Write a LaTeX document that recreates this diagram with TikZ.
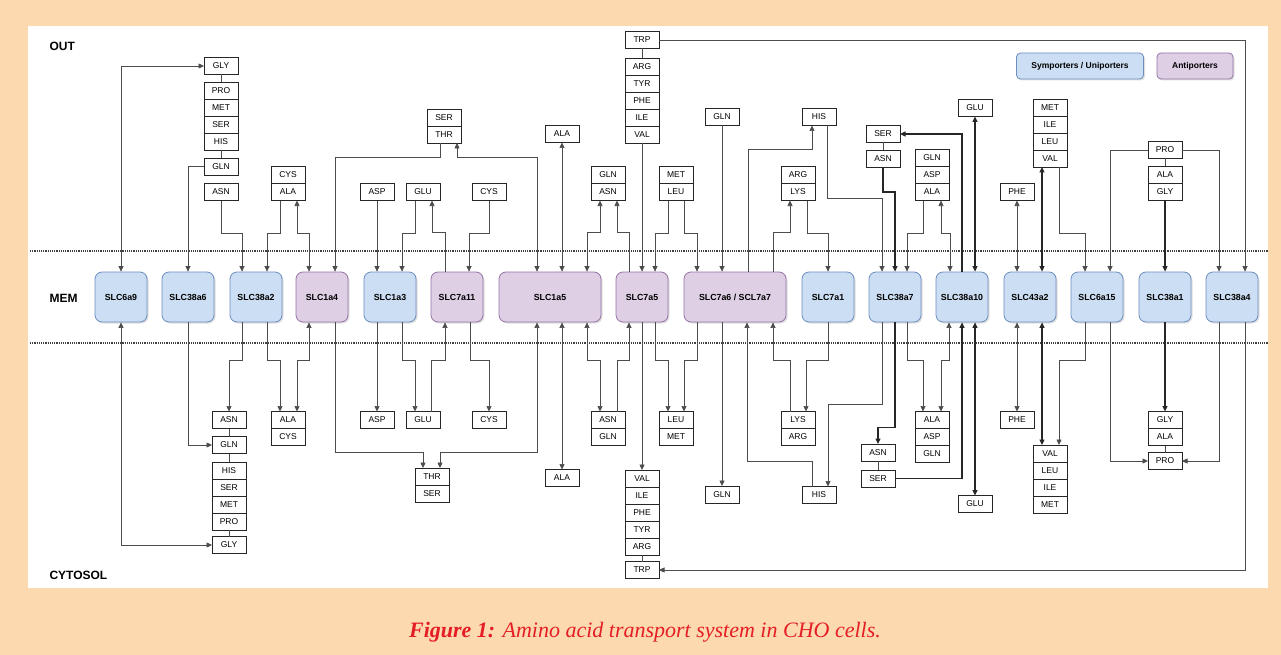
\documentclass[tikz,border=0pt]{standalone}
\usepackage{fontspec}
\setmainfont{Liberation Serif}
\setsansfont{Liberation Sans}
\usepackage{tikz}
\usetikzlibrary{arrows.meta, positioning, calc, shadows}
\usepackage{xcolor}
\definecolor{peach}{RGB}{253,217,176}
\definecolor{symblue}{RGB}{204,222,243}
\definecolor{symedge}{RGB}{108,142,191}
\definecolor{antipurple}{RGB}{222,207,229}
\definecolor{antiedge}{RGB}{150,115,166}
\definecolor{capred}{RGB}{227,30,36}

\begin{document}
\begin{tikzpicture}[
  x=1pt, y=-1pt,
  sym/.style={rectangle, rounded corners=7pt, draw=symedge, fill=symblue, line width=0.8pt, minimum width=52pt, minimum height=50pt, font=\sffamily\bfseries\fontsize{8.8}{10}\selectfont, drop shadow={shadow xshift=1.5pt, shadow yshift=-1.5pt, opacity=0.25}},
  anti/.style={sym, draw=antiedge, fill=antipurple},
  wide/.style={minimum width=102pt},
  aa/.style={rectangle, draw=black!85, line width=0.7pt, fill=white, minimum width=34pt, minimum height=17pt, inner sep=0pt, outer sep=0pt, font=\sffamily\fontsize{8.5}{9}\selectfont},
  zone/.style={anchor=west, font=\sffamily\bfseries\fontsize{12}{14}\selectfont},
  legendbox/.style={rectangle, rounded corners=4pt, minimum height=26pt, line width=0.8pt, font=\sffamily\bfseries\fontsize{8.5}{10}\selectfont, drop shadow={shadow xshift=1.5pt, shadow yshift=-1.5pt, opacity=0.25}},
  membrane/.style={densely dotted, line width=1.2pt, black!75},
  link/.style={draw=black!70, line width=0.65pt},
  heavy/.style={draw=black!85, line width=1.1pt},
  arr/.style={link, -{Triangle[length=5.5pt,width=5pt]}},
  arrs/.style={link, {Triangle[length=5.5pt,width=5pt]}-{Triangle[length=5.5pt,width=5pt]}},
]
\useasboundingbox (0,0) rectangle (1281,655);
\fill[peach] (0,0) rectangle (1281,655);
\fill[white] (28,26) rectangle (1268,588);

% membrane
\draw[membrane] (30,251) -- (1268,251);
\draw[membrane] (30,343) -- (1268,343);
\node[zone] (out) at (46,46) {OUT};
\node[zone] (mem) at (46,298) {MEM};
\node[zone] (cyto) at (46,575) {CYTOSOL};

% legend
\node[legendbox, draw=symedge, fill=symblue, minimum width=127pt] (lsym) at (1080,66) {Symporters / Uniporters};
\node[legendbox, draw=antiedge, fill=antipurple, minimum width=76pt] (lanti) at (1195,66) {Antiporters};

% transporters
\node[sym] (s6a9) at (121,297) {SLC6a9};
\node[sym] (s38a6) at (188,297) {SLC38a6};
\node[sym] (s38a2) at (256,297) {SLC38a2};
\node[anti] (s1a4) at (322,297) {SLC1a4};
\node[sym] (s1a3) at (390,297) {SLC1a3};
\node[anti] (s7a11) at (457,297) {SLC7a11};
\node[anti, wide] (s1a5) at (550,297) {SLC1a5};
\node[anti] (s7a5) at (642,297) {SLC7a5};
\node[anti, wide] (s7a6) at (735,297) {SLC7a6 / SCL7a7};
\node[sym] (s7a1) at (828,297) {SLC7a1};
\node[sym] (s38a7) at (895,297) {SLC38a7};
\node[sym] (s38a10) at (962,297) {SLC38a10};
\node[sym] (s43a2) at (1030,297) {SLC43a2};
\node[sym] (s6a15) at (1097,297) {SLC6a15};
\node[sym] (s38a1) at (1165,297) {SLC38a1};
\node[sym] (s38a4) at (1232,297) {SLC38a4};

% amino acids, outside
\node[aa] (gly1) at (221,66) {GLY};
\node[aa] (pro1) at (221,90.5) {PRO};
\node[aa, below=0pt of pro1] (met1) {MET};
\node[aa, below=0pt of met1] (ser1) {SER};
\node[aa, below=0pt of ser1] (his1) {HIS};
\node[aa] (gln1) at (221,166.5) {GLN};
\node[aa] (asn1) at (221,192) {ASN};
\node[aa] (cys1) at (288,175) {CYS};
\node[aa, below=0pt of cys1] (ala1) {ALA};
\node[aa] (ser2) at (444,117.5) {SER};
\node[aa, below=0pt of ser2] (thr1) {THR};
\node[aa] (asp1) at (377,192) {ASP};
\node[aa] (glu1) at (423,192) {GLU};
\node[aa] (cys2) at (489,192) {CYS};
\node[aa] (ala2) at (562,134) {ALA};
\node[aa] (gln2) at (608,175) {GLN};
\node[aa, below=0pt of gln2] (asn2) {ASN};
\node[aa] (trp1) at (642,40) {TRP};
\node[aa] (arg1) at (642,66.5) {ARG};
\node[aa, below=0pt of arg1] (tyr1) {TYR};
\node[aa, below=0pt of tyr1] (phe1) {PHE};
\node[aa, below=0pt of phe1] (ile1) {ILE};
\node[aa, below=0pt of ile1] (val1) {VAL};
\node[aa] (met2) at (676,175) {MET};
\node[aa, below=0pt of met2] (leu2) {LEU};
\node[aa] (gln3) at (722,117) {GLN};
\node[aa] (his2) at (819,117) {HIS};
\node[aa] (arg2) at (798,175) {ARG};
\node[aa, below=0pt of arg2] (lys1) {LYS};
\node[aa] (ser3) at (883,134) {SER};
\node[aa] (asn3) at (883,159) {ASN};
\node[aa] (gln4) at (932,158) {GLN};
\node[aa, below=0pt of gln4] (asp2) {ASP};
\node[aa, below=0pt of asp2] (ala3) {ALA};
\node[aa] (glu2) at (975,108) {GLU};
\node[aa] (phe2) at (1017,192) {PHE};
\node[aa] (met3) at (1050,107.5) {MET};
\node[aa, below=0pt of met3] (ile2) {ILE};
\node[aa, below=0pt of ile2] (leu3) {LEU};
\node[aa, below=0pt of leu3] (val2) {VAL};
\node[aa] (pro2) at (1165,150) {PRO};
\node[aa] (ala4) at (1165,175) {ALA};
\node[aa, below=0pt of ala4] (gly2) {GLY};

% amino acids, cytosol
\node[aa] (asn4) at (229,420) {ASN};
\node[aa] (gln5) at (229,445) {GLN};
\node[aa] (his3) at (229,470.5) {HIS};
\node[aa, below=0pt of his3] (ser4) {SER};
\node[aa, below=0pt of ser4] (met4) {MET};
\node[aa, below=0pt of met4] (pro3) {PRO};
\node[aa] (gly3) at (229,545) {GLY};
\node[aa] (ala5) at (288,420) {ALA};
\node[aa, below=0pt of ala5] (cys3) {CYS};
\node[aa] (asp3) at (377,420) {ASP};
\node[aa] (glu3) at (423,420) {GLU};
\node[aa] (cys4) at (489,420) {CYS};
\node[aa] (thr2) at (432,476.5) {THR};
\node[aa, below=0pt of thr2] (ser5) {SER};
\node[aa] (ala6) at (562,478) {ALA};
\node[aa] (asn5) at (608,420) {ASN};
\node[aa, below=0pt of asn5] (gln6) {GLN};
\node[aa] (val3) at (642,478.5) {VAL};
\node[aa, below=0pt of val3] (ile3) {ILE};
\node[aa, below=0pt of ile3] (phe3) {PHE};
\node[aa, below=0pt of phe3] (tyr3) {TYR};
\node[aa, below=0pt of tyr3] (arg3) {ARG};
\node[aa] (trp2) at (642,570) {TRP};
\node[aa] (leu4) at (676,420) {LEU};
\node[aa, below=0pt of leu4] (met5) {MET};
\node[aa] (gln7) at (722,494.5) {GLN};
\node[aa] (his4) at (819,495) {HIS};
\node[aa] (lys2) at (798,420) {LYS};
\node[aa, below=0pt of lys2] (arg4) {ARG};
\node[aa] (asn6) at (878,452.5) {ASN};
\node[aa] (ser6) at (878,478.5) {SER};
\node[aa] (ala7) at (932,420) {ALA};
\node[aa, below=0pt of ala7] (asp4) {ASP};
\node[aa, below=0pt of asp4] (gln8) {GLN};
\node[aa] (glu4) at (975,504) {GLU};
\node[aa] (phe4) at (1017,420) {PHE};
\node[aa] (val4) at (1050,453.5) {VAL};
\node[aa, below=0pt of val4] (leu5) {LEU};
\node[aa, below=0pt of leu5] (ile4) {ILE};
\node[aa, below=0pt of ile4] (met6) {MET};
\node[aa] (gly4) at (1165,420) {GLY};
\node[aa, below=0pt of gly4] (ala8) {ALA};
\node[aa] (pro4) at (1165,461) {PRO};

% ties between split stacks
\draw[link] (gly1) -- (pro1);
\draw[link] (his1) -- (gln1);
\draw[link] (trp1) -- (arg1);
\draw[link] (ser3) -- (asn3);
\draw[link] (pro2) -- (ala4);
\draw[link] (asn4) -- (gln5);
\draw[link] (gln5) -- (his3);
\draw[link] (pro3) -- (gly3);
\draw[link] (arg3) -- (trp2);
\draw[link] (asn6) -- (ser6);
\draw[link] (ala8) -- (pro4);

% outside <-> membrane
\draw[arrs] (gly1.west) -| (s6a9.north);
\draw[arr] (gln1.west) -| (s38a6.north);
\draw[arr] (asn1.south) -- ++(0,32.5) -| ([xshift=-14pt]s38a2.north);
\draw[arr] ([xshift=-8pt]ala1.south) -- ++(0,32.5) -| ([xshift=11pt]s38a2.north);
\draw[arrs] ([xshift=9pt]ala1.south) -- ++(0,32.5) -| ([xshift=-13pt]s1a4.north);
\draw[arr] ([xshift=-4pt]thr1.south) -- ++(0,14) -| ([xshift=13pt]s1a4.north);
\draw[arrs] ([xshift=13pt]thr1.south) -- ++(0,14) -| ([xshift=-13pt]s1a5.north);
\draw[arr] (asp1.south) -- ([xshift=-13pt]s1a3.north);
\draw[arr] ([xshift=-8pt]glu1.south) -- ++(0,32.5) -| ([xshift=12pt]s1a3.north);
\draw[arr] ([xshift=-12pt]s7a11.north) -- ++(0,-39) -| ([xshift=9pt]glu1.south);
\draw[arr] (cys2.south) -- ++(0,32.5) -| ([xshift=12pt]s7a11.north);
\draw[arrs] (ala2.south) -- ([xshift=12pt]s1a5.north);
\draw[arrs] ([xshift=37pt]s1a5.north) -- ++(0,-39) -| ([xshift=-8pt]asn2.south);
\draw[arr] ([xshift=-13pt]s7a5.north) -- ++(0,-39) -| ([xshift=9pt]asn2.south);
\draw[arr] (val1.south) -- (s7a5.north);
\draw[arr] ([xshift=-8pt]leu2.south) -- ++(0,32.5) -| ([xshift=13pt]s7a5.north);
\draw[arr] ([xshift=8pt]leu2.south) -- ++(0,32.5) -| ([xshift=-38pt]s7a6.north);
\draw[arr] (gln3.south) -- ([xshift=-13pt]s7a6.north);
\draw[arr] ([xshift=13pt]s7a6.north) -- ++(0,-122) -| ([xshift=-7pt]his2.south);
\draw[arr] ([xshift=38pt]s7a6.north) -- ++(0,-39) -| ([xshift=-8pt]lys1.south);
\draw[arr] ([xshift=9pt]lys1.south) -- ++(0,32.5) -| (s7a1.north);
\draw[arr] ([xshift=8pt]his2.south) -- ++(0,72.5) -| ([xshift=-13pt]s38a7.north);
\draw[arr, heavy] (asn3.south) -- ++(0,24.5) -| (s38a7.north);
\draw[arr] ([xshift=-9pt]ala3.south) -- ++(0,32.5) -| ([xshift=12pt]s38a7.north);
\draw[arrs] ([xshift=9pt]ala3.south) -- ++(0,32.5) -| ([xshift=-12pt]s38a10.north);
\draw[arr, heavy] (s38a10.north) |- (ser3.east);
\draw[arrs, heavy] (glu2.south) -- ([xshift=13pt]s38a10.north);
\draw[arrs] (phe2.south) -- ([xshift=-13pt]s43a2.north);
\draw[arrs, heavy] ([xshift=-8pt]val2.south) -- ([xshift=12pt]s43a2.north);
\draw[arr] ([xshift=9pt]val2.south) -- ++(0,66) -| ([xshift=-12pt]s6a15.north);
\draw[arr] (pro2.west) -| ([xshift=13pt]s6a15.north);
\draw[arr] (pro2.east) -| ([xshift=-13pt]s38a4.north);
\draw[arr, heavy] (gly2.south) -- (s38a1.north);
\draw[arr] (trp1.east) -| ([xshift=13pt]s38a4.north);

% membrane <-> cytosol
\draw[arrs] (s6a9.south) |- (gly3.west);
\draw[arr] (s38a6.south) |- (gln5.west);
\draw[arr] ([xshift=-14pt]s38a2.south) -- ++(0,38) -| (asn4.north);
\draw[arr] ([xshift=11pt]s38a2.south) -- ++(0,38) -| ([xshift=-8pt]ala5.north);
\draw[arrs] ([xshift=9pt]ala5.north) -- ++(0,-51.5) -| ([xshift=-13pt]s1a4.south);
\draw[arr] ([xshift=13pt]s1a4.south) -- ++(0,130) -| ([xshift=-9pt]thr2.north);
\draw[arrs] ([xshift=-13pt]s1a5.south) -- ++(0,130) -| ([xshift=8pt]thr2.north);
\draw[arr] ([xshift=-13pt]s1a3.south) -- (asp3.north);
\draw[arr] ([xshift=12pt]s1a3.south) -- ++(0,38) -| ([xshift=-8pt]glu3.north);
\draw[arr] ([xshift=8pt]glu3.north) -- ++(0,-51.5) -| ([xshift=-12pt]s7a11.south);
\draw[arr] ([xshift=13pt]s7a11.south) -- ++(0,38) -| (cys4.north);
\draw[arrs] ([xshift=12pt]s1a5.south) -- (ala6.north);
\draw[arrs] ([xshift=-8pt]asn5.north) -- ++(0,-51.5) -| ([xshift=37pt]s1a5.south);
\draw[arr] ([xshift=9pt]asn5.north) -- ++(0,-51.5) -| ([xshift=-13pt]s7a5.south);
\draw[arr] (s7a5.south) -- (val3.north);
\draw[arr] ([xshift=13pt]s7a5.south) -- ++(0,38) -| ([xshift=-8pt]leu4.north);
\draw[arr] ([xshift=-38pt]s7a6.south) -- ++(0,38) -| ([xshift=8pt]leu4.north);
\draw[arr] ([xshift=-13pt]s7a6.south) -- (gln7.north);
\draw[arr] ([xshift=-7pt]his4.north) -- ++(0,-25.5) -| ([xshift=12pt]s7a6.south);
\draw[arr] ([xshift=-8pt]lys2.north) -- ++(0,-51.5) -| ([xshift=38pt]s7a6.south);
\draw[arr] (s7a1.south) -- ++(0,38) -| ([xshift=8pt]lys2.north);
\draw[arr] ([xshift=-13pt]s38a7.south) -- ++(0,82) -| ([xshift=9pt]his4.north);
\draw[arr, heavy] (s38a7.south) -- ++(0,105) -| (asn6.north);
\draw[arr] ([xshift=12pt]s38a7.south) -- ++(0,38) -| ([xshift=-9pt]ala7.north);
\draw[arrs] ([xshift=9pt]ala7.north) -- ++(0,-51.5) -| ([xshift=-13pt]s38a10.south);
\draw[arr, heavy] (ser6.east) -| (s38a10.south);
\draw[arrs, heavy] ([xshift=13pt]s38a10.south) -- (glu4.north);
\draw[arrs] ([xshift=-13pt]s43a2.south) -- (phe4.north);
\draw[arrs, heavy] ([xshift=12pt]s43a2.south) -- ([xshift=-8pt]val4.north);
\draw[arr] ([xshift=-12pt]s6a15.south) -- ++(0,38) -| ([xshift=9pt]val4.north);
\draw[arr] ([xshift=13pt]s6a15.south) |- (pro4.west);
\draw[arr, heavy] (s38a1.south) -- (gly4.north);
\draw[arr] ([xshift=-13pt]s38a4.south) |- (pro4.east);
\draw[arr] ([xshift=13pt]s38a4.south) |- (trp2.east);

\node[font=\rmfamily\itshape\fontsize{22}{26}\selectfont, text=capred] (cap) at (645,632) {\textbf{Figure 1:} Amino acid transport system in CHO cells.};
\end{tikzpicture}
\end{document}
